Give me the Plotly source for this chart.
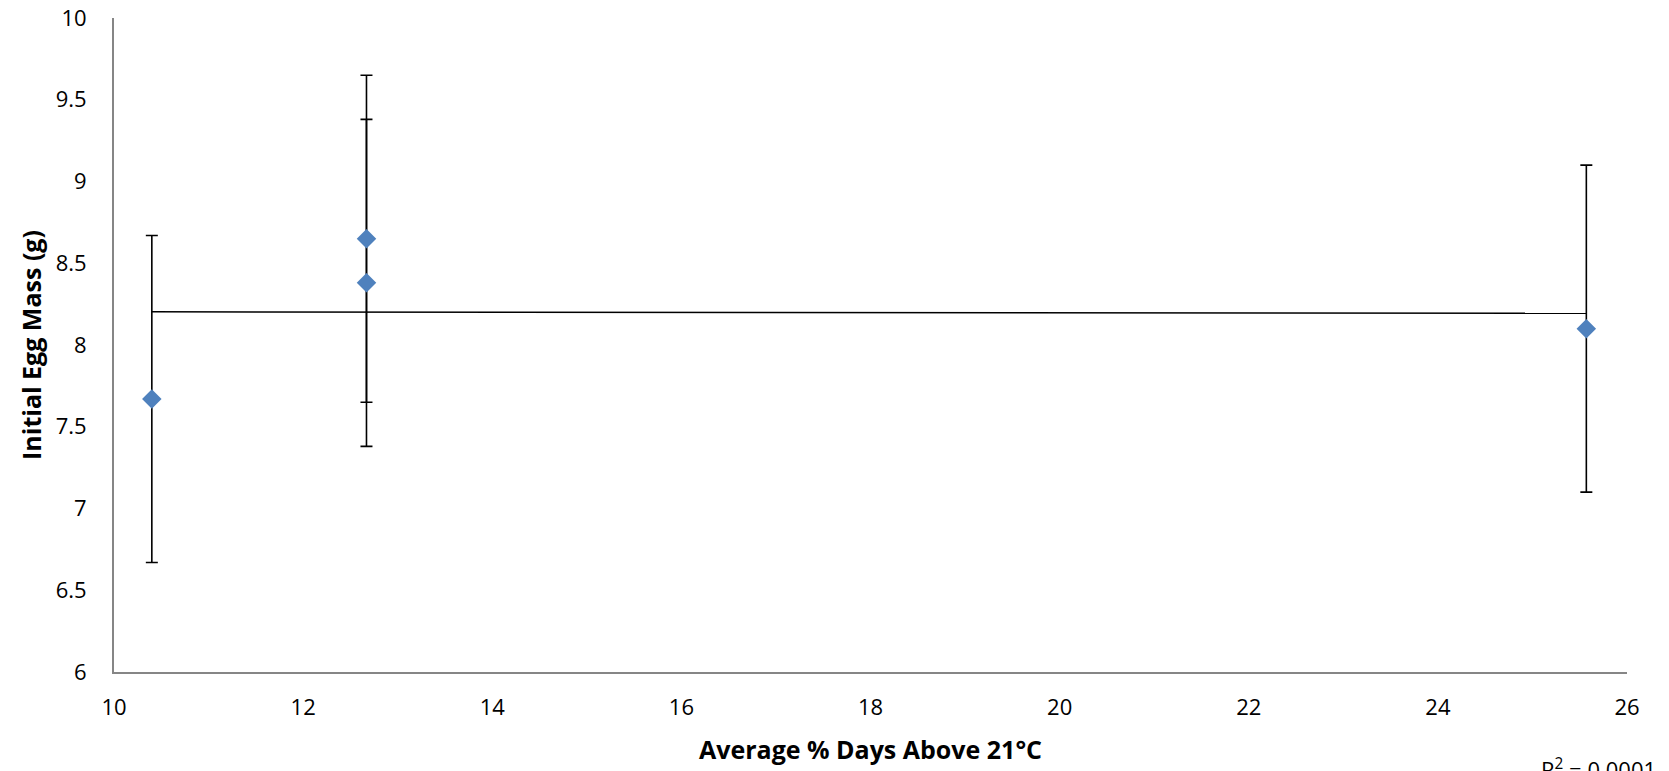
import numpy as np
import plotly.graph_objects as go

# Data
days_above_21 = [10.4, 12.67, 12.67, 25.57]
egg_mass = [7.67, 8.65, 8.38, 8.10]
egg_mass_err = [1.0, 1.0, 1.0, 1.0]

x_ticks = [10, 12, 14, 16, 18, 20, 22, 24, 26]
y_ticks = [6, 6.5, 7, 7.5, 8, 8.5, 9, 9.5, 10]

FONT = "Open Sans"

# Linear trendline computed from the data
xa = np.array(days_above_21)
ya = np.array(egg_mass)
slope, intercept = np.polyfit(xa, ya, 1)
pred = slope * xa + intercept
r2 = 1 - np.sum((ya - pred) ** 2) / np.sum((ya - ya.mean()) ** 2)
trend_x = [xa.min(), xa.max()]
trend_y = [slope * v + intercept for v in trend_x]

fig = go.Figure()

fig.add_trace(go.Scatter(
    x=days_above_21, y=egg_mass, mode="markers",
    marker=dict(symbol="diamond", size=15, color="#4F81BD"),
    error_y=dict(type="data", array=egg_mass_err, visible=True,
                 color="black", thickness=1.6, width=6),
    showlegend=False,
))

fig.add_trace(go.Scatter(
    x=trend_x, y=trend_y, mode="lines",
    line=dict(color="black", width=1.5),
    showlegend=False, hoverinfo="skip",
))

fig.update_layout(
    width=1669, height=771,
    margin=dict(l=114, r=42, t=18, b=99),
    paper_bgcolor="white", plot_bgcolor="white",
    font=dict(family=FONT, size=22, color="black"),
    xaxis=dict(
        range=[10, 26], tickvals=x_ticks, ticktext=[str(v) for v in x_ticks],
        showgrid=False, zeroline=False, showline=True, automargin=False,
        linecolor="#868686", linewidth=2, ticks="",
        tickfont=dict(family=FONT, size=22), ticklabelstandoff=15,
        title=dict(text="<b>Average % Days Above 21°C</b>",
                   font=dict(family=FONT, size=25), standoff=21),
    ),
    yaxis=dict(
        range=[6, 10], tickvals=y_ticks, ticktext=[f"{v:g}" for v in y_ticks],
        showgrid=False, zeroline=False, showline=True, automargin=False,
        linecolor="#868686", linewidth=2, ticks="",
        tickfont=dict(family=FONT, size=22), ticklabelstandoff=21,
        title=dict(text="<b>Initial Egg Mass (g)</b>",
                   font=dict(family=FONT, size=25), standoff=7),
    ),
    annotations=[dict(
        text=f"R<sup>2</sup> = {r2:.4f}",
        xref="paper", yref="paper", x=0.942, y=-0.121,
        xanchor="left", yanchor="top", showarrow=False,
        font=dict(family=FONT, size=22, color="black"),
    )],
)

fig.write_html("out.html")
